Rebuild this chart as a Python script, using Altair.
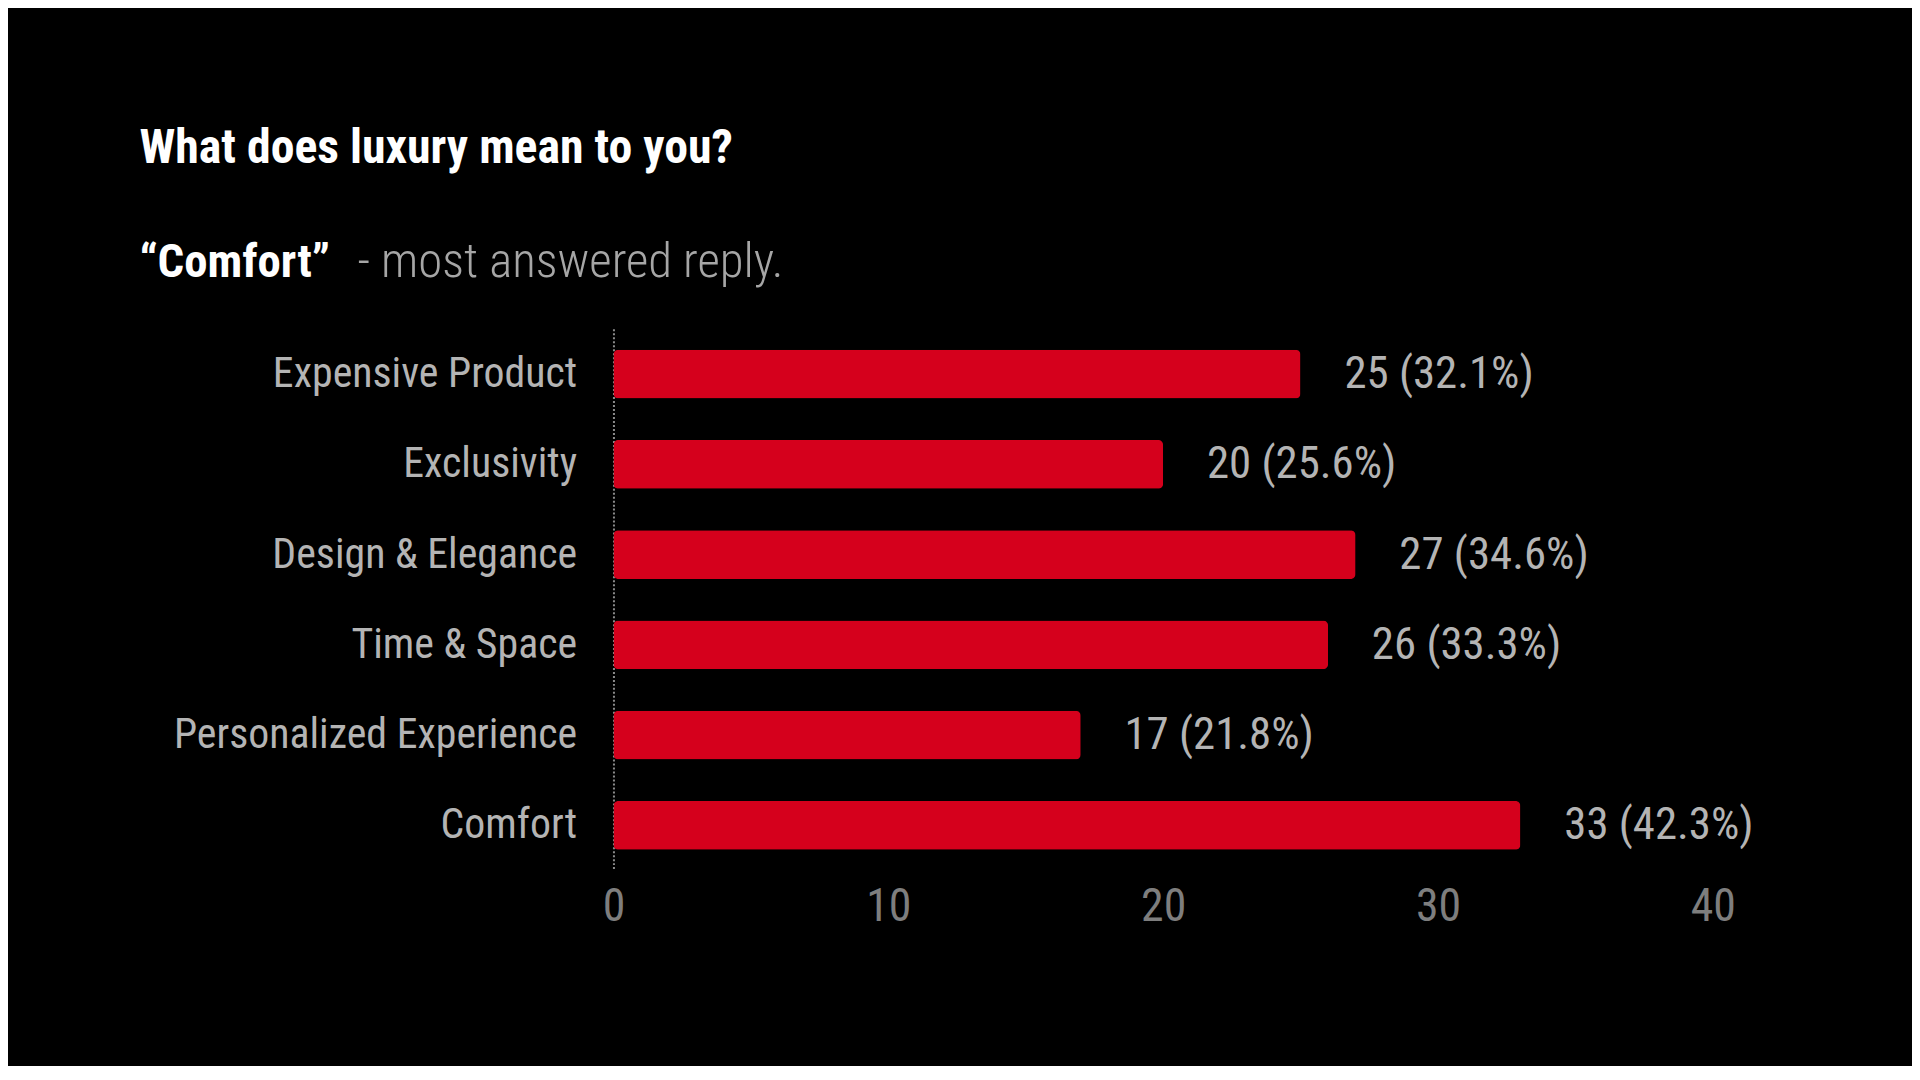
import altair as alt
import pandas as pd

categories = ["Expensive Product", "Exclusivity", "Design & Elegance",
              "Time & Space", "Personalized Experience", "Comfort"]
counts = [25, 20, 27, 26, 17, 33]
percents = ["32.1%", "25.6%", "34.6%", "33.3%", "21.8%", "42.3%"]
ticks = [0, 10, 20, 30, 40]

title_text = "What does luxury mean to you?"
sub_bold = "\u201cComfort\u201d"
sub_rest = "- most answered reply."

FONT = "Liberation Sans Narrow, Roboto Condensed, DejaVu Sans Condensed, Roboto, sans-serif"

df = pd.DataFrame({
    "category": categories,
    "count": counts,
    "label": [f"{c} ({p})" for c, p in zip(counts, percents)],
})

y_enc = alt.Y(
    "category:N", sort=categories, title=None,
    scale=alt.Scale(paddingInner=0.46, paddingOuter=0.23),
    axis=alt.Axis(labelFont=FONT, labelFontSize=42, labelColor="#b4b4b4",
                  labelPadding=37, labelLimit=0, ticks=False, grid=False,
                  domain=True, domainDash=[2, 2], domainColor="#8a8a8a",
                  domainWidth=2),
)
x_enc = alt.X(
    "count:Q", title=None,
    scale=alt.Scale(domain=[0, 40], nice=False),
    axis=alt.Axis(values=ticks, labelFont=FONT, labelFontSize=46,
                  labelColor="#7e7e7e", labelPadding=14, labelFlush=False,
                  domain=False, ticks=False, grid=False),
)

base = alt.Chart(df)
bars = base.mark_bar(color="#d5001c", cornerRadius=5).encode(x=x_enc, y=y_enc)
labels = base.mark_text(align="left", baseline="middle", dx=44, font=FONT,
                        fontSize=45, color="#b4b4b4").encode(
    x="count:Q", y=alt.Y("category:N", sort=categories), text="label:N")

title = alt.Chart(pd.DataFrame({"t": [title_text]})).mark_text(
    align="left", baseline="alphabetic", font=FONT, fontSize=48,
    fontWeight="bold", color="#ffffff").encode(
    x=alt.value(-476), y=alt.value(-167), text="t:N")

sub1 = alt.Chart(pd.DataFrame({"t": [sub_bold]})).mark_text(
    align="left", baseline="alphabetic", font=FONT, fontSize=47,
    fontWeight="bold", color="#ffffff").encode(
    x=alt.value(-476), y=alt.value(-52), text="t:N")

sub2 = alt.Chart(pd.DataFrame({"t": [sub_rest]})).mark_text(
    align="left", baseline="alphabetic", font=FONT, fontSize=49,
    fontWeight=300, color="#a6a6a6").encode(
    x=alt.value(-257), y=alt.value(-52), text="t:N")

chart = alt.layer(bars, labels, title, sub1, sub2).properties(
    width=1104, height=544,
    autosize=alt.AutoSizeParams(type="none"),
    padding={"left": 608, "top": 320, "right": 200, "bottom": 194},
    background="#000000",
).configure_view(stroke=None)

chart.save("out.html", embed_options={"renderer": "svg", "actions": False})
